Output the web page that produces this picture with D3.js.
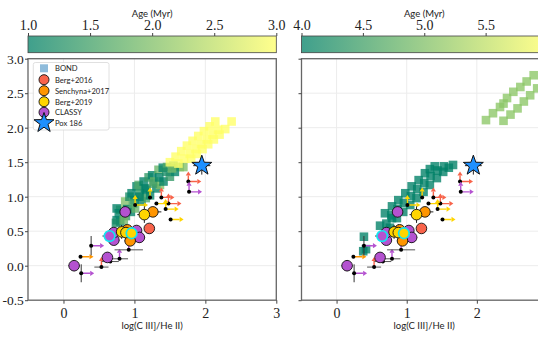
<!DOCTYPE html>
<html><head><meta charset="utf-8">
<script src="https://cdn.jsdelivr.net/npm/d3@7"></script>
<style>body{margin:0;background:#fff;overflow:hidden}svg{display:block}</style>
</head><body><svg id="c" width="538" height="340"></svg>
<script>
// ---- BOND model grid, left panel (age 1-3 Myr) ----
const bondLeftX = [0.75,0.80,0.75,0.87,0.93,0.96,1.03,1.06,1.13,1.20,1.25,1.34,1.40,1.46,1.55,1.64,
  0.80,0.88,0.95,1.01,1.10,1.16,1.22,1.31,1.36,1.41,1.50,1.57,1.69,
  0.78,0.74,0.85,1.00,1.08,1.15,1.28,
  0.90,0.98,1.07,1.17,1.26,1.35,1.45,1.53,
  1.50,1.58,1.66,1.74,1.82,1.90,1.98,2.06,2.14,
  1.62,1.70,1.78,1.86,1.94,2.02,2.10,2.18,
  1.80,1.88,1.96,2.04,2.12,2.20,2.28,2.37];
const bondLeftY = [0.66,0.81,0.83,0.93,1.00,1.05,1.15,1.17,1.22,1.28,1.31,1.39,1.42,1.43,1.45,1.43,
  0.64,0.72,0.78,0.83,0.93,0.98,1.02,1.12,1.17,1.22,1.29,1.36,1.43,
  0.76,0.62,0.66,0.95,1.05,1.12,1.22,
  0.82,0.90,1.00,1.10,1.19,1.28,1.36,1.41,
  1.50,1.58,1.66,1.74,1.81,1.88,1.95,2.02,2.09,
  1.48,1.55,1.62,1.69,1.76,1.83,1.90,1.97,
  1.55,1.62,1.69,1.76,1.83,1.90,1.98,2.09];
const bondLeftAge = [1.0,1.8,1.0,2.0,1.2,1.0,1.0,1.6,1.0,1.4,1.0,1.8,1.0,1.6,1.8,2.0,
  1.0,1.4,1.0,1.8,1.0,1.6,1.0,1.0,2.0,1.0,1.4,1.0,2.0,
  1.0,1.2,1.9,1.0,1.4,1.0,1.8,
  1.0,1.6,1.0,1.0,1.5,1.0,1.2,1.9,
  3.0,3.0,3.0,3.0,3.0,3.0,3.0,3.0,3.0,
  3.0,3.0,3.0,3.0,3.0,3.0,3.0,3.0,
  3.0,3.0,3.0,3.0,3.0,3.0,3.0,3.0];
// ---- BOND model grid, right panel (age 4-6 Myr) ----
const bondRightX = [0.69,0.79,0.88,0.98,1.07,1.17,1.26,1.33,1.40,
  0.86,0.95,1.05,1.14,1.24,1.33,1.43,1.52,1.60,1.66,
  0.78,0.87,0.96,1.06,1.15,1.25,1.34,1.44,1.53,
  0.71,0.79,0.76,0.62,0.39,0.38,0.42,
  2.13,2.23,2.33,2.38,2.43,2.52,2.62,2.71,2.81,2.38,2.48,2.58,2.67,2.76,2.86];
const bondRightY = [0.76,0.86,0.95,1.05,1.15,1.24,1.34,1.40,1.44,
  0.69,0.78,0.88,0.98,1.07,1.17,1.27,1.36,1.42,1.46,
  0.73,0.82,0.91,1.01,1.11,1.20,1.30,1.38,1.44,
  0.61,0.69,0.55,0.58,0.42,0.21,0.24,
  2.11,2.21,2.30,2.35,2.43,2.52,2.59,2.67,2.76,2.10,2.19,2.28,2.38,2.47,2.57];
const bondRightAge = [4,4,4,4,4,4,4,4,4, 4,4,4,4,4,4,4,4,4,4, 4,4,4,4,4,4,4,4,4, 4,4,4,4,4,4,4,
  5.1,5.1,5.1,5.1,5.1,5.1,5.1,5.1,5.1,5.1,5.1,5.1,5.1,5.1,5.1];

// ---- observed galaxies (detections) ----
const ptSurvey = ['CLASSY','CLASSY','CLASSY','CLASSY','CLASSY','CLASSY','CLASSY','CLASSY',
  'Senchyna+2017','Senchyna+2017','Senchyna+2017','Berg+2016',
  'Berg+2019','Berg+2019','Berg+2019','Berg+2019'];
const ptX = [0.15,0.62,0.71,0.71,0.87,1.03,1.07,0.65, 0.94,0.90,1.26, 1.21, 0.82,0.88,1.14,0.96];
const ptY = [0.00,0.12,0.37,0.48,0.78,0.51,0.41,0.43, 0.36,0.52,0.78, 0.54, 0.49,0.48,0.74,0.47];
const ptXerr = [0.08,0.06,0.08,0.06,0.06,0.07,0.08,0.10, 0.08,0.08,0.12, 0.06, 0.08,0.10,0.10,0.08];
const ptYerr = [0.08,0.06,0.07,0.07,0.08,0.07,0.08,0.06, 0.07,0.06,0.06, 0.06, 0.10,0.12,0.12,0.07];
const ptCyan = [0,0,0,0,0,0,0,1, 0,0,0, 0, 0,0,0,1];

// ---- observed galaxies (limits) ----
const limSurvey = ['CLASSY','Senchyna+2017','CLASSY','Berg+2016','CLASSY','CLASSY','CLASSY','Berg+2019',
  'Berg+2019','Berg+2016','Berg+2019','Berg+2016','Berg+2019','Berg+2019','Berg+2016','CLASSY'];
const limX = [0.25,0.24,0.39,0.535,0.66,0.79,0.92,1.01,1.22,1.38,1.31,1.48,1.44,1.51,1.76,1.77];
const limY = [-0.11,0.13,0.29,-0.02,0.06,0.10,0.23,0.88,0.99,0.99,0.90,0.90,0.82,0.67,1.22,1.07];
const limXerr = [0,0,0,0.10,0.12,0.12,0.20,0,0,0,0,0,0,0,0,0];
const limYerr = [0.13,0,0.14,0,0,0,0,0,0,0,0,0,0,0,0,0];
const limRight = [1,1,1,0,0,0,0,1,0,1,1,1,1,1,1,1];
const limUp = [0,0,0,1,0,1,1,1,1,1,0,1,1,0,1,1];

// ---- Pox 186 ----
const poxX = [1.95], poxY = [1.45], poxXerr = [0.12], poxYerr = [0.13];

// ---- legend / ticks ----
const legendLabels = ['BOND','Berg+2016','Senchyna+2017','Berg+2019','CLASSY','Pox 186'];
const surveyColors = {'Berg+2016':'#f8634a','Senchyna+2017':'#ff9500','Berg+2019':'#ffd500','CLASSY':'#b452d0'};
const xTickValsLeft = [0,1,2,3];
const xTickValsRight = [0,1,2];
const yTickVals = [-0.5,0.0,0.5,1.0,1.5,2.0,2.5,3.0];
const yTickLabels = ['-0.5','0.0','0.5','1.0','1.5','2.0','2.5','3.0'];
const ageTicksLeft = [1.0,1.5,2.0,2.5,3.0];
const ageTicksRight = [4.0,4.5,5.0,5.5];

const svg = d3.select('#c');
const defs = svg.append('defs');
const summer = t => d3.rgb(255*t, 255*(0.5+0.5*t), 102).formatHex();

function starPath(R, r){
  const pts = d3.range(10).map(i => {
    const a = -Math.PI/2 + i*Math.PI/5, rr = i%2 ? r : R;
    return [rr*Math.cos(a), rr*Math.sin(a)];
  });
  return 'M' + pts.map(p => p.join(',')).join('L') + 'Z';
}
function arrow(g, x1, y1, x2, y2, color){
  const ang = Math.atan2(y2-y1, x2-x1), h = 4, w = 2.6;
  const bx = x2 - h*Math.cos(ang), by = y2 - h*Math.sin(ang);
  g.append('line').attr('x1',x1).attr('y1',y1).attr('x2',bx).attr('y2',by)
    .attr('stroke',color).attr('stroke-width',1.4);
  g.append('path').attr('d', `M${x2},${y2}L${bx - w*Math.sin(ang)},${by + w*Math.cos(ang)}L${bx + w*Math.sin(ang)},${by - w*Math.cos(ang)}Z`)
    .attr('fill',color);
}

const panels = [
  {x0:28, x1:276.3, ageDom:[1,3], ageTicks:ageTicksLeft, xt:xTickValsLeft, bx:bondLeftX, by:bondLeftY, ba:bondLeftAge, ylab:true, id:'L'},
  {x0:301.5, x1:547, ageDom:[4,6], ageTicks:ageTicksRight, xt:xTickValsRight, bx:bondRightX, by:bondRightY, ba:bondRightAge, ylab:false, id:'R'}
];
const yTop = 58.7, yBot = 300.2;

panels.forEach(p => {
  const x = d3.scaleLinear().domain([-0.5,3]).range([p.x0,p.x1]);
  const y = d3.scaleLinear().domain([-0.5,3]).range([yBot,yTop]);
  const ageScale = d3.scaleLinear().domain(p.ageDom).range([p.x0,p.x1]);
  const tAge = a => Math.max(0, Math.min(1, (a - p.ageDom[0])/(p.ageDom[1]-p.ageDom[0])));

  // colorbar
  const gid = 'grad'+p.id;
  const grad = defs.append('linearGradient').attr('id',gid);
  d3.range(0,1.001,0.1).forEach(t => grad.append('stop').attr('offset',t).attr('stop-color',summer(t)).attr('stop-opacity',0.75));
  svg.append('rect').attr('x',p.x0).attr('y',36).attr('width',p.x1-p.x0).attr('height',16.7)
    .attr('fill',`url(#${gid})`).attr('stroke','#444').attr('stroke-width',0.8);
  const cax = svg.append('g').attr('transform','translate(0,36)')
    .call(d3.axisTop(ageScale).tickValues(p.ageTicks).tickSize(3).tickPadding(3).tickFormat(d3.format('.1f')));
  cax.select('.domain').remove();
  cax.selectAll('line').attr('stroke','#444');
  cax.selectAll('text').attr('font-family','Liberation Serif, serif').attr('font-size',14).attr('fill','#222');
  svg.append('text').attr('x',(p.x0+p.x1)/2).attr('y',17).attr('text-anchor','middle')
    .attr('font-family','Lato, sans-serif').attr('font-size',9.5).attr('fill','#222').text('Age (Myr)');

  // clip + grid
  const cid = 'clip'+p.id;
  defs.append('clipPath').attr('id',cid).append('rect').attr('x',p.x0).attr('y',yTop).attr('width',p.x1-p.x0).attr('height',yBot-yTop);
  const g = svg.append('g').attr('clip-path',`url(#${cid})`);
  g.selectAll('.gx').data([0,1,2,3]).join('line').attr('x1',d=>x(d)).attr('x2',d=>x(d)).attr('y1',yTop).attr('y2',yBot)
    .attr('stroke','#ececec').attr('stroke-width',1);
  g.selectAll('.gy').data(yTickVals).join('line').attr('y1',d=>y(d)).attr('y2',d=>y(d)).attr('x1',p.x0).attr('x2',p.x1)
    .attr('stroke','#ececec').attr('stroke-width',1);

  // BOND squares
  const s = 8.6;
  g.selectAll('.sq').data(p.bx.map((v,i)=>i)).join('rect')
    .attr('x',i=>x(p.bx[i])-s/2).attr('y',i=>y(p.by[i])-s/2).attr('width',s).attr('height',s)
    .attr('fill',i=>summer(tAge(p.ba[i]))).attr('opacity',0.78);

  // limits
  limX.forEach((v,i) => {
    const cx = x(v), cy = y(limY[i]), col = surveyColors[limSurvey[i]];
    if (limXerr[i]) g.append('line').attr('x1',x(v-limXerr[i])).attr('x2',x(v+limXerr[i])).attr('y1',cy).attr('y2',cy).attr('stroke','#555').attr('stroke-width',1);
    if (limYerr[i]) g.append('line').attr('x1',cx).attr('x2',cx).attr('y1',y(limY[i]-limYerr[i])).attr('y2',y(limY[i]+limYerr[i])).attr('stroke','#333').attr('stroke-width',1);
    if (limRight[i]) arrow(g, cx, cy, cx+13, cy, col);
    if (limUp[i]) arrow(g, cx, cy, cx, cy-10, col);
    g.append('circle').attr('cx',cx).attr('cy',cy).attr('r',2).attr('fill','#000');
  });

  // detections
  ptX.forEach((v,i) => {
    const cx = x(v), cy = y(ptY[i]);
    g.append('line').attr('x1',x(v-ptXerr[i])).attr('x2',x(v+ptXerr[i])).attr('y1',cy).attr('y2',cy).attr('stroke','#222').attr('stroke-width',1);
    g.append('line').attr('x1',cx).attr('x2',cx).attr('y1',y(ptY[i]-ptYerr[i])).attr('y2',y(ptY[i]+ptYerr[i])).attr('stroke','#222').attr('stroke-width',1);
  });
  ptX.forEach((v,i) => {
    g.append('circle').attr('cx',x(v)).attr('cy',y(ptY[i])).attr('r',5.3)
      .attr('fill',surveyColors[ptSurvey[i]])
      .attr('stroke',ptCyan[i] ? '#12e6f0' : '#111').attr('stroke-width',ptCyan[i] ? 1.7 : 0.9);
  });

  // Pox 186
  poxX.forEach((v,i) => {
    const cx = x(v), cy = y(poxY[i]);
    g.append('line').attr('x1',x(v-poxXerr[i])).attr('x2',x(v+poxXerr[i])).attr('y1',cy).attr('y2',cy).attr('stroke','#222').attr('stroke-width',1);
    g.append('line').attr('x1',cx).attr('x2',cx).attr('y1',y(poxY[i]-poxYerr[i])).attr('y2',y(poxY[i]+poxYerr[i])).attr('stroke','#222').attr('stroke-width',1);
    g.append('path').attr('d',starPath(10.5,4.2)).attr('transform',`translate(${cx},${cy})`)
      .attr('fill','#1e90ff').attr('stroke','#111').attr('stroke-width',1);
  });

  // frame
  svg.append('rect').attr('x',p.x0).attr('y',yTop).attr('width',p.x1-p.x0).attr('height',yBot-yTop)
    .attr('fill','none').attr('stroke','#666').attr('stroke-width',1.3);

  // axes
  const xa = svg.append('g').attr('transform',`translate(0,${yBot})`)
    .call(d3.axisBottom(x).tickValues(p.xt).tickSize(3.5).tickPadding(2).tickFormat(d3.format('d')));
  const ya = svg.append('g').attr('transform',`translate(${p.x0},0)`)
    .call(d3.axisLeft(y).tickValues(yTickVals).tickSize(3).tickPadding(1.2)
      .tickFormat((d,i) => p.ylab ? yTickLabels[i] : ''));
  [xa,ya].forEach(a => {
    a.select('.domain').remove();
    a.selectAll('line').attr('stroke','#444');
    a.selectAll('text').attr('font-family','Liberation Serif, serif').attr('font-size',14).attr('fill','#222');
  });
  ya.selectAll('text').attr('font-size',13.5);
  xa.selectAll('text').attr('dy','0.85em');
  svg.append('text').attr('x',(p.x0+p.x1)/2).attr('y',329).attr('text-anchor','middle')
    .attr('font-family','Lato, sans-serif').attr('font-size',9.5).attr('fill','#222').text('log(C III]/He II)');
});

// legend
const lg = svg.append('g');
lg.append('rect').attr('x',33.3).attr('y',62.5).attr('width',75.7).attr('height',67.5).attr('rx',2)
  .attr('fill','#fff').attr('fill-opacity',0.85).attr('stroke','#d8d8d8').attr('stroke-width',0.8);
const rowY = [68.3,79.7,90.7,101.7,112.3,123];
legendLabels.forEach((lab,i) => {
  const cy = rowY[i], cx = 44;
  if (lab === 'BOND') lg.append('rect').attr('x',cx-4).attr('y',cy-4).attr('width',8).attr('height',8).attr('fill','#8ebbdb');
  else if (lab === 'Pox 186') lg.append('path').attr('d',starPath(10.5,4.2)).attr('transform',`translate(${cx},${cy})`).attr('fill','#1e90ff').attr('stroke','#111').attr('stroke-width',1);
  else lg.append('circle').attr('cx',cx).attr('cy',cy).attr('r',5).attr('fill',surveyColors[lab]).attr('stroke','#111').attr('stroke-width',0.9);
  lg.append('text').attr('x',55).attr('y',cy+2.8).attr('font-family','Lato, sans-serif').attr('font-size',7.6).attr('fill','#222').text(lab);
});
</script></body></html>
